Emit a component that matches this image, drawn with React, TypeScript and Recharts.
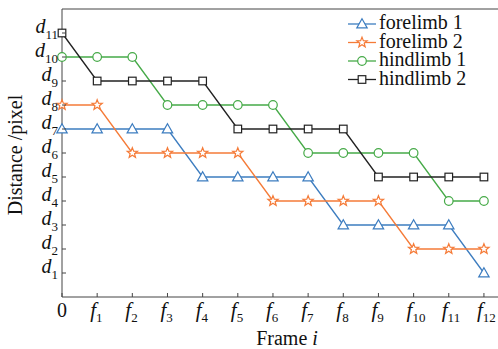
import { LineChart, Line, XAxis, YAxis, ReferenceLine } from "recharts"

const frames = [0, 1, 2, 3, 4, 5, 6, 7, 8, 9, 10, 11, 12]
const levels = [1, 2, 3, 4, 5, 6, 7, 8, 9, 10, 11]
const forelimb1 = [7, 7, 7, 7, 5, 5, 5, 5, 3, 3, 3, 3, 1]
const forelimb2 = [8, 8, 6, 6, 6, 6, 4, 4, 4, 4, 2, 2, 2]
const hindlimb1 = [10, 10, 10, 8, 8, 8, 8, 6, 6, 6, 6, 4, 4]
const hindlimb2 = [11, 9, 9, 9, 9, 7, 7, 7, 7, 5, 5, 5, 5]

const data = frames.map((f, i) => ({
  frame: f,
  f1: forelimb1[i],
  f2: forelimb2[i],
  h1: hindlimb1[i],
  h2: hindlimb2[i],
}))

const series = [
  { key: "f1", name: "forelimb 1", color: "#3d7dc0", shape: "triangle" },
  { key: "f2", name: "forelimb 2", color: "#f57b38", shape: "star" },
  { key: "h1", name: "hindlimb 1", color: "#46aa48", shape: "circle" },
  { key: "h2", name: "hindlimb 2", color: "#222222", shape: "square" },
]

const FONT = "Liberation Serif, DejaVu Serif, serif"
const AXIS = "#444"

function Marker({ shape, color, cx, cy }: { shape: string; color: string; cx: number; cy: number }) {
  const common = { fill: "#fff", stroke: color, strokeWidth: 1.2 }
  if (shape === "circle") return <circle cx={cx} cy={cy} r={4.3} {...common} />
  if (shape === "square") return <rect x={cx - 3.8} y={cy - 3.8} width={7.6} height={7.6} {...common} />
  if (shape === "triangle") {
    const r = 5.2
    return <polygon points={`${cx},${cy - r} ${cx + r},${cy + r * 0.75} ${cx - r},${cy + r * 0.75}`} {...common} />
  }
  const pts: string[] = []
  for (let k = 0; k < 10; k++) {
    const rr = k % 2 === 0 ? 5.4 : 2.3
    const a = -Math.PI / 2 + (k * Math.PI) / 5
    pts.push(`${cx + rr * Math.cos(a)},${cy + rr * Math.sin(a)}`)
  }
  return <polygon points={pts.join(" ")} {...common} />
}

const makeDot = (shape: string, color: string) => (props: any) => {
  const { cx, cy, index } = props
  return <Marker key={`${shape}-${index}`} shape={shape} color={color} cx={cx} cy={cy} />
}

const YTick = (props: any) => {
  const { x, y, payload } = props
  return (
    <g>
      <line x1={x} x2={x + 4} y1={y} y2={y} stroke={AXIS} />
      <text x={x - 4} y={y} textAnchor="end" fontFamily={FONT} fill="#111">
        <tspan fontStyle="italic" fontSize={20}>d</tspan>
        <tspan fontSize={13} dy={6}>{payload.value}</tspan>
      </text>
    </g>
  )
}

const XTick = (props: any) => {
  const { x, y, payload } = props
  return (
    <g>
      <line x1={x} x2={x} y1={y} y2={y - 4} stroke={AXIS} />
      {payload.value === 0 ? (
        <text x={x} y={y + 20} textAnchor="middle" fontFamily={FONT} fontSize={20} fill="#111">0</text>
      ) : (
        <text x={x - 7} y={y + 20} fontFamily={FONT} fill="#111">
          <tspan fontStyle="italic" fontSize={21}>f</tspan>
          <tspan fontSize={13} dy={5}>{payload.value}</tspan>
        </text>
      )}
    </g>
  )
}

export default function App() {
  return (
    <div style={{ position: "absolute", left: 0, top: 0, width: 498, height: 349, background: "#fff" }}>
      <LineChart width={498} height={349} data={data} margin={{ top: 9, right: 0, bottom: 0, left: 0 }}>
        <XAxis
          dataKey="frame"
          type="number"
          domain={[0, 12.4]}
          ticks={frames}
          height={52}
          tickSize={0}
          tickMargin={0}
          tickLine={false}
          stroke={AXIS}
          tick={<XTick />}
          interval={0}
        />
        <YAxis
          type="number"
          domain={[0, 12]}
          ticks={levels}
          width={62}
          tickSize={0}
          tickMargin={0}
          tickLine={false}
          stroke={AXIS}
          tick={<YTick />}
          interval={0}
        />
        <ReferenceLine y={12} stroke={AXIS} />
        {series.map((s) => (
          <Line
            key={s.key}
            dataKey={s.key}
            name={s.name}
            type="linear"
            stroke={s.color}
            strokeWidth={1.3}
            dot={makeDot(s.shape, s.color)}
            activeDot={false}
            isAnimationActive={false}
          />
        ))}
        <g>
          {series.map((s, i) => {
            const y = 24 + i * 18.5
            return (
              <g key={s.key}>
                <line x1={348} x2={376} y1={y} y2={y} stroke={s.color} strokeWidth={1.3} />
                <Marker shape={s.shape} color={s.color} cx={362} cy={y} />
                <text x={379} y={y + 5} fontFamily={FONT} fontSize={20} fill="#111">{s.name}</text>
              </g>
            )
          })}
        </g>
        <text x={287} y={345} textAnchor="middle" fontFamily={FONT} fontSize={20} fill="#111">
          Frame <tspan fontStyle="italic">i</tspan>
        </text>
        <text
          x={22}
          y={155}
          textAnchor="middle"
          fontFamily={FONT}
          fontSize={20}
          fill="#111"
          transform="rotate(-90 22 155)"
        >
          Distance /pixel
        </text>
      </LineChart>
    </div>
  )
}
